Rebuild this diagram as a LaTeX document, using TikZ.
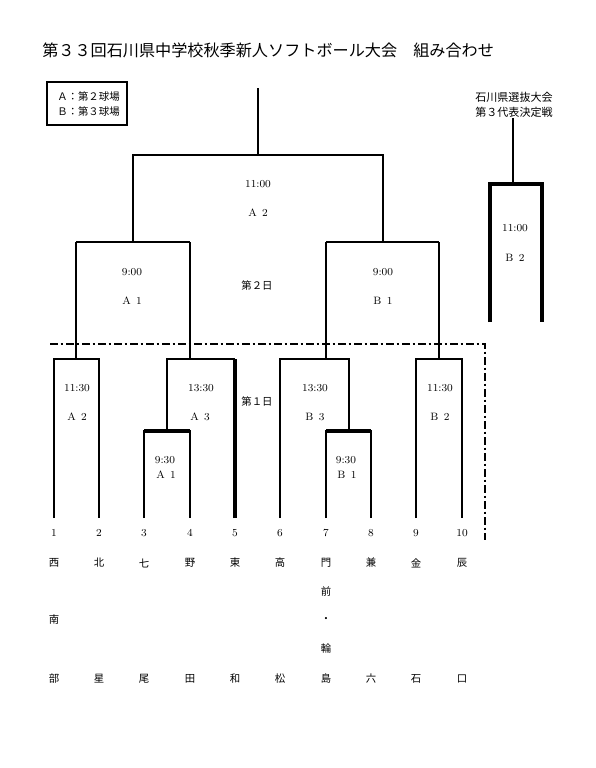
\documentclass[tikz,border=0pt]{standalone}
\usepackage{fontspec}
\newfontfamily\jp{Noto Sans CJK JP}
\begin{document}
\begin{tikzpicture}[x=0.75pt,y=-0.75pt,
  br/.style={line width=2.1pt},
  thk/.style={line width=2.8pt},
  dd/.style={line width=1.1pt, dash pattern=on 6pt off 2pt on 2pt off 2pt},
  tm/.style={font=\fontsize{8}{9}\selectfont, inner sep=0pt},
  jl/.style={font=\jp\fontsize{7.8}{9}\selectfont, inner sep=0pt},
  nm/.style={font=\jp\fontsize{7.8}{9}\selectfont, inner sep=0pt},
  num/.style={font=\fontsize{8}{9}\selectfont, inner sep=0pt}]
\useasboundingbox (0,0) rectangle (596,768);

% title
\node[font=\jp\fontsize{12.1}{14}\selectfont, anchor=west, inner sep=0pt] (title) at (42,50) {第３３回石川県中学校秋季新人ソフトボール大会　組み合わせ};

% legend
\draw[line width=1pt] (47,82) rectangle (127,125);
\node[jl, anchor=west] (lga) at (57,97) {Ａ：第２球場};
\node[jl, anchor=west] (lgb) at (57,112) {Ｂ：第３球場};

% right top text
\node[jl, font=\jp\fontsize{8.3}{9}\selectfont] (rt1) at (514,97) {石川県選抜大会};
\node[jl, font=\jp\fontsize{8.3}{9}\selectfont] (rt2) at (514,112) {第３代表決定戦};

% leaves
\foreach \i/\x in {1/54,2/99,3/144,4/190,5/235,6/280,7/326,8/371,9/416,10/462}{
  \coordinate (t\i) at (\x,518);
}

% first round brackets
\draw[br] (t1) -- (54,359) -- (99,359) -- (t2);
\draw[br] (76,359) -- (76,242);
\draw[br] (t3) -- (144,431) -- (190,431) -- (t4);
\draw[thk] (144,431) -- (190,431);
\draw[br] (167,431) -- (167,359) -- (235,359);
\draw[thk] (t5) -- (235,359);
\draw[br] (190,359) -- (190,242);
\draw[br] (t7) -- (326,431) -- (371,431) -- (t8);
\draw[thk] (326,431) -- (371,431);
\draw[br] (t6) -- (280,359) -- (349,359) -- (349,431);
\draw[br] (326,359) -- (326,242);
\draw[br] (t9) -- (416,359) -- (462,359) -- (t10);
\draw[br] (439,359) -- (439,242);

% second level
\draw[br] (76,242) -- (190,242);
\draw[br] (326,242) -- (439,242);
\draw[br] (133,242) -- (133,155) -- (383,155) -- (383,242);
\draw[br] (258,155) -- (258,88);

% right box
\draw[thk] (490,322) -- (490,184) -- (542,184) -- (542,322);
\draw[br] (513,184) -- (513,118);

% dash-dot line
\draw[dd] (50,344) -- (485,344) -- (485,540);

% labels
\node[tm] (m1) at (258,184) {11:00};
\node[tm] (m1b) at (258,213) {A\enspace 2};
\node[tm] (m2) at (132,272) {9:00};
\node[tm] (m2b) at (132,301) {A\enspace 1};
\node[tm] (m3) at (383,272) {9:00};
\node[tm] (m3b) at (383,301) {B\enspace 1};
\node[jl] (d2) at (257,286) {第２日};
\node[tm] (m4) at (77,388) {11:30};
\node[tm] (m4b) at (77,417) {A\enspace 2};
\node[tm] (m5) at (201,388) {13:30};
\node[tm] (m5b) at (200,417) {A\enspace 3};
\node[jl] (d1) at (257,402) {第１日};
\node[tm] (m6) at (315,388) {13:30};
\node[tm] (m6b) at (315,417) {B\enspace 3};
\node[tm] (m7) at (440,388) {11:30};
\node[tm] (m7b) at (440,417) {B\enspace 2};
\node[tm] (m8) at (165,460) {9:30};
\node[tm] (m8b) at (166,475) {A\enspace 1};
\node[tm] (m9) at (346,460) {9:30};
\node[tm] (m9b) at (347,475) {B\enspace 1};
\node[tm] (m10) at (515,228) {11:00};
\node[tm] (m10b) at (515,258) {B\enspace 2};

% numbers and names
\foreach \i/\x/\a/\b in {1/54/西/部,2/99/北/星,3/144/七/尾,4/190/野/田,5/235/東/和,6/280/高/松,7/326/門/島,8/371/兼/六,9/416/金/石,10/462/辰/口}{
  \node[num] (n\i) at (\x,533) {\i};
  \node[nm] (a\i) at (\x,563) {\a};
  \node[nm] (b\i) at (\x,679) {\b};
}
\node[nm] (c1) at (54,620) {南};
\node[nm] (c7a) at (326,591) {前};
\node[nm] (c7b) at (326,620) {・};
\node[nm] (c7c) at (326,649) {輪};
\end{tikzpicture}
\end{document}
